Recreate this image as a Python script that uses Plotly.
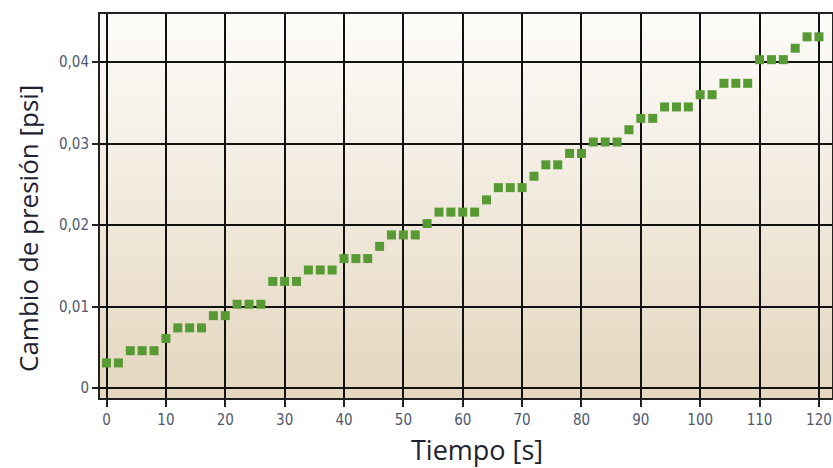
import plotly.graph_objects as go

# ---- data ----
tiempo_s = list(range(0, 121, 2))
cambio_psi = [
    0.0031, 0.0031, 0.0046, 0.0046, 0.0046, 0.0061, 0.0074, 0.0074, 0.0074, 0.0089,
    0.0089, 0.0103, 0.0103, 0.0103, 0.0131, 0.0131, 0.0131, 0.0145, 0.0145, 0.0145,
    0.0159, 0.0159, 0.0159, 0.0174, 0.0188, 0.0188, 0.0188, 0.0202, 0.0216, 0.0216,
    0.0216, 0.0216, 0.0231, 0.0246, 0.0246, 0.0246, 0.0260, 0.0274, 0.0274, 0.0288,
    0.0288, 0.0302, 0.0302, 0.0302, 0.0317, 0.0331, 0.0331, 0.0345, 0.0345, 0.0345,
    0.0360, 0.0360, 0.0374, 0.0374, 0.0374, 0.0403, 0.0403, 0.0403, 0.0417, 0.0431,
    0.0431,
]
x_tick_vals = list(range(0, 121, 10))
x_tick_text = [str(v) for v in x_tick_vals]
y_tick_vals = [0, 0.01, 0.02, 0.03, 0.04]
y_tick_text = ["0", "0,01", "0,02", "0,03", "0,04"]

x_title = "Tiempo [s]"
y_title = "Cambio de presión [psi]"

# ---- styling ----
top_rgb = (253, 252, 250)
bot_rgb = (228, 214, 190)
n_bands = 48

shapes = []
for i in range(n_bands):
    f = (i + 0.5) / n_bands
    r = round(bot_rgb[0] + (top_rgb[0] - bot_rgb[0]) * f)
    g = round(bot_rgb[1] + (top_rgb[1] - bot_rgb[1]) * f)
    b = round(bot_rgb[2] + (top_rgb[2] - bot_rgb[2]) * f)
    shapes.append(dict(
        type="rect", xref="x domain", yref="y domain",
        x0=0, x1=1, y0=i / n_bands, y1=(i + 1) / n_bands + 0.002,
        fillcolor=f"rgb({r},{g},{b})", line=dict(width=0), layer="below",
    ))

tick_font = dict(family="Liberation Sans Narrow, DejaVu Sans Condensed, Arial Narrow, Roboto, sans-serif",
                 size=15, color="#4f5870")
title_font = dict(family="Open Sans, Noto Sans, sans-serif", size=26, color="#1e2230")

fig = go.Figure()
fig.add_trace(go.Scatter(
    x=tiempo_s, y=cambio_psi, mode="markers",
    marker=dict(symbol="square", size=9, color="#579a33", line=dict(width=0)),
    showlegend=False,
))

fig.update_layout(
    width=833, height=468,
    margin=dict(l=100, r=1, t=14, b=70),
    paper_bgcolor="white",
    plot_bgcolor="#f0e9dc",
    separators=",.",
    shapes=shapes,
    xaxis=dict(
        range=[-1.1, 122.2], tickvals=x_tick_vals, ticktext=x_tick_text,
        showgrid=True, gridcolor="#111111", gridwidth=2,
        zeroline=False, showline=True, linecolor="#222222", linewidth=2, mirror=True,
        ticks="outside", ticklen=7, tickwidth=2, tickcolor="#222222",
        tickfont=tick_font, automargin=False,
    ),
    yaxis=dict(
        range=[-0.0012, 0.0459], tickvals=y_tick_vals, ticktext=y_tick_text,
        showgrid=True, gridcolor="#111111", gridwidth=2,
        zeroline=False, showline=True, linecolor="#222222", linewidth=2, mirror=True,
        ticks="outside", ticklen=6, tickwidth=2, tickcolor="#222222",
        tickfont=tick_font, automargin=False,
    ),
    annotations=[
        dict(text=x_title, xref="paper", yref="paper", x=0.5157, y=-0.133,
             xanchor="center", yanchor="middle", showarrow=False,
             font=dict(title_font, size=27)),
        dict(text=y_title, xref="paper", yref="paper", x=-0.0984, y=0.4427,
             xanchor="center", yanchor="middle", showarrow=False, textangle=-90,
             font=title_font),
    ],
)

fig.write_html("out.html", config={"displayModeBar": False},
               post_script="document.body.style.margin='0';")
